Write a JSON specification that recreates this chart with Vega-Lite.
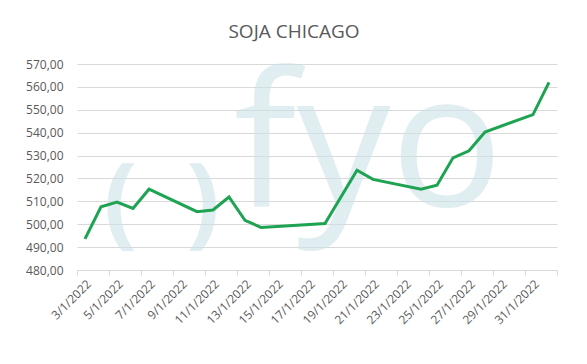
{
  "$schema": "https://vega.github.io/schema/vega-lite/v6.json",
  "width": 480,
  "height": 206,
  "autosize": {"type": "none"},
  "padding": {"left": 77, "top": 64, "right": 30, "bottom": 94},
  "background": "#ffffff",
  "title": {
    "text": "SOJA CHICAGO",
    "font": "Open Sans",
    "fontSize": 19,
    "fontWeight": "normal",
    "color": "#595959",
    "anchor": "middle",
    "dx": -23,
    "offset": 14
  },
  "config": {
    "view": {"stroke": null},
    "font": "Open Sans"
  },
  "resolve": {"scale": {"x": "independent", "y": "independent"}},
  "layer": [
    {
      "data": {"values": [{"logo": "fyo"}]},
      "mark": {"type": "text", "font": "Open Sans", "fontSize": 187, "color": "#cde4eb", "opacity": 0.6, "align": "center", "baseline": "alphabetic"},
      "encoding": {
        "x": {"datum": {"year": 2022, "month": 1, "date": 20, "hours": 17}, "type": "temporal", "axis": null,
              "scale": {"domain": [{"year": 2022, "month": 1, "date": 2, "hours": 12}, {"year": 2022, "month": 2, "date": 1, "hours": 12}]}},
        "y": {"datum": 508, "type": "quantitative", "axis": null, "scale": {"domain": [480, 570], "zero": false, "nice": false}},
        "text": {"field": "logo"}
      }
    },
    {
      "data": {"values": [{"logo": "("}]},
      "mark": {"type": "text", "font": "Open Sans", "fontSize": 100, "fontWeight": "bold", "color": "#cde4eb", "opacity": 0.6, "align": "center", "baseline": "middle"},
      "encoding": {
        "x": {"datum": {"year": 2022, "month": 1, "date": 5, "hours": 5}, "type": "temporal", "axis": null,
              "scale": {"domain": [{"year": 2022, "month": 1, "date": 2, "hours": 12}, {"year": 2022, "month": 2, "date": 1, "hours": 12}]}},
        "y": {"datum": 508.5, "type": "quantitative", "axis": null, "scale": {"domain": [480, 570], "zero": false, "nice": false}},
        "text": {"field": "logo"}
      }
    },
    {
      "data": {"values": [{"logo": ")"}]},
      "mark": {"type": "text", "font": "Open Sans", "fontSize": 100, "fontWeight": "bold", "color": "#cde4eb", "opacity": 0.6, "align": "center", "baseline": "middle"},
      "encoding": {
        "x": {"datum": {"year": 2022, "month": 1, "date": 10, "hours": 9}, "type": "temporal", "axis": null,
              "scale": {"domain": [{"year": 2022, "month": 1, "date": 2, "hours": 12}, {"year": 2022, "month": 2, "date": 1, "hours": 12}]}},
        "y": {"datum": 508.5, "type": "quantitative", "axis": null, "scale": {"domain": [480, 570], "zero": false, "nice": false}},
        "text": {"field": "logo"}
      }
    },
    {
      "data": {
        "values": [
          {"date": "2022-01-03T00:00:00", "price": 493.6},
          {"date": "2022-01-04T00:00:00", "price": 507.6},
          {"date": "2022-01-05T00:00:00", "price": 509.7},
          {"date": "2022-01-06T00:00:00", "price": 506.9},
          {"date": "2022-01-07T00:00:00", "price": 515.3},
          {"date": "2022-01-10T00:00:00", "price": 505.5},
          {"date": "2022-01-11T00:00:00", "price": 506.2},
          {"date": "2022-01-12T00:00:00", "price": 511.9},
          {"date": "2022-01-13T00:00:00", "price": 501.7},
          {"date": "2022-01-14T00:00:00", "price": 498.6},
          {"date": "2022-01-18T00:00:00", "price": 500.3},
          {"date": "2022-01-20T00:00:00", "price": 523.6},
          {"date": "2022-01-21T00:00:00", "price": 519.6},
          {"date": "2022-01-24T00:00:00", "price": 515.3},
          {"date": "2022-01-25T00:00:00", "price": 517.0},
          {"date": "2022-01-26T00:00:00", "price": 529.0},
          {"date": "2022-01-27T00:00:00", "price": 532.1},
          {"date": "2022-01-28T00:00:00", "price": 540.3},
          {"date": "2022-01-31T00:00:00", "price": 547.9},
          {"date": "2022-02-01T00:00:00", "price": 562.0}
        ]
      },
      "mark": {"type": "line", "color": "#1ea352", "strokeWidth": 3, "strokeJoin": "miter"},
      "encoding": {
        "x": {
          "field": "date",
          "type": "temporal",
          "title": null,
          "scale": {
            "domain": [
              {"year": 2022, "month": 1, "date": 2, "hours": 12},
              {"year": 2022, "month": 2, "date": 1, "hours": 12}
            ]
          },
          "axis": {
            "orient": "bottom",
            "values": [
              {"year": 2022, "month": 1, "date": 2, "hours": 12},
              {"year": 2022, "month": 1, "date": 4, "hours": 12},
              {"year": 2022, "month": 1, "date": 6, "hours": 12},
              {"year": 2022, "month": 1, "date": 8, "hours": 12},
              {"year": 2022, "month": 1, "date": 10, "hours": 12},
              {"year": 2022, "month": 1, "date": 12, "hours": 12},
              {"year": 2022, "month": 1, "date": 14, "hours": 12},
              {"year": 2022, "month": 1, "date": 16, "hours": 12},
              {"year": 2022, "month": 1, "date": 18, "hours": 12},
              {"year": 2022, "month": 1, "date": 20, "hours": 12},
              {"year": 2022, "month": 1, "date": 22, "hours": 12},
              {"year": 2022, "month": 1, "date": 24, "hours": 12},
              {"year": 2022, "month": 1, "date": 26, "hours": 12},
              {"year": 2022, "month": 1, "date": 28, "hours": 12},
              {"year": 2022, "month": 1, "date": 30, "hours": 12},
              {"year": 2022, "month": 2, "date": 1, "hours": 12}
            ],
            "labelExpr": "time(datum.value) > time(datetime(2022, 0, 31, 12)) ? '' : timeFormat(time(datum.value) + 43200000, '%-d/%-m/%Y')",
            "labelOffset": 8,
            "labelAngle": -45,
            "labelAlign": "right",
            "labelBaseline": "top",
            "labelPadding": 3,
            "labelFont": "Open Sans",
            "labelFontSize": 12,
            "labelColor": "#595959",
            "labelOverlap": false,
            "labelBound": false,
            "labelFlush": false,
            "grid": false,
            "domainColor": "#d9d9d9",
            "domainWidth": 1,
            "tickColor": "#d9d9d9",
            "tickSize": 5,
            "tickWidth": 1
          }
        },
        "y": {
          "field": "price",
          "type": "quantitative",
          "title": null,
          "scale": {"domain": [480, 570], "zero": false, "nice": false},
          "axis": {
            "orient": "left",
            "values": [480, 490, 500, 510, 520, 530, 540, 550, 560, 570],
            "labelExpr": "replace(format(datum.value, '.2f'), '.', ',')",
            "labelFont": "Open Sans",
            "labelFontSize": 12,
            "labelColor": "#595959",
            "labelPadding": 14,
            "labelOverlap": false,
            "ticks": false,
            "domain": false,
            "grid": true,
            "gridColor": "#d9d9d9",
            "gridWidth": 1
          }
        }
      }
    }
  ]
}
